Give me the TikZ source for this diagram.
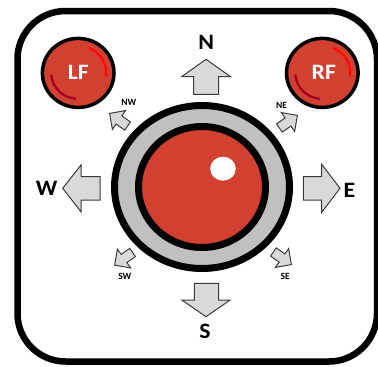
\documentclass[tikz,border=0pt]{standalone}
\usepackage{fontspec}
\setmainfont{Carlito}
\definecolor{padred}{RGB}{210,64,48}
\definecolor{ringgray}{RGB}{192,192,192}
\definecolor{arrowgray}{RGB}{217,217,217}
\definecolor{arrowedge}{RGB}{60,60,60}
\definecolor{glowred}{RGB}{255,10,10}
\definecolor{shadered}{RGB}{165,0,35}
\newcommand\widetext[1]{\scalebox{1.08}[1]{#1}}
\tikzset{
  padarrow/.style={fill=arrowgray, draw=arrowedge, line width=1, line join=miter},
  bigtext/.style={inner sep=0, font=\fontsize{22}{22}\selectfont\bfseries},
  smalltext/.style={inner sep=0, font=\fontsize{9.5}{10}\selectfont\bfseries},
  button/.style={fill=padred, draw=black, line width=3.5},
  smallarrow/.pic={\draw[padarrow] (-10.5,-5) -- (0,-5) -- (0,-11.5) -- (11.5,0) -- (0,11.5) -- (0,5) -- (-10.5,5) -- cycle;}
}
\begin{document}
\begin{tikzpicture}[x=1pt,y=-1pt]
\useasboundingbox (0,0) rectangle (378,367);

% housing
\draw[line width=6.5, rounded corners=48] (17.5,11) rectangle (377,361.5);

% shoulder buttons
\draw[button] (78.2,72.9) ellipse [x radius=35.8, y radius=34.5];
\draw[glowred, line width=2.3] (78.2,72.9) ++(-68:28 and 27) arc [start angle=-68, end angle=8, x radius=28, y radius=27];
\draw[shadered, line width=2.3] (78.2,72.9) ++(-184:27 and 26) arc [start angle=-184, end angle=-265, x radius=27, y radius=26];
\node[bigtext, white] (lf) at (78.3,72) {\widetext{LF}};

\draw[button] (322.3,72.9) ellipse [x radius=35.8, y radius=34.5];
\draw[glowred, line width=2.3] (322.3,72.9) ++(-68:28 and 27) arc [start angle=-68, end angle=8, x radius=28, y radius=27];
\draw[shadered, line width=2.3] (322.3,72.9) ++(-184:27 and 26) arc [start angle=-184, end angle=-265, x radius=27, y radius=26];
\node[bigtext, white] (rf) at (323.8,72) {\widetext{RF}};

% stick
\draw[fill=ringgray, line width=7] (202,187) ellipse [x radius=87.5, y radius=81.5];
\draw[fill=padred, line width=7] (202,187) ellipse [x radius=63.5, y radius=60.5];
\fill[white] (223,168.7) ellipse [x radius=12.8, y radius=12];

% main directions
\draw[padarrow] (193.5,94.3) -- (193.5,76.7) -- (181.6,76.7) -- (206,59.3) -- (230.6,76.7) -- (218.5,76.7) -- (218.5,94.3) -- cycle;
\draw[padarrow] (194.3,283.3) -- (194.3,300) -- (181.8,300) -- (206,316.7) -- (230.2,300) -- (218.6,300) -- (218.6,283.3) -- cycle;
\draw[padarrow] (100,176.7) -- (81,176.7) -- (81,165) -- (62.7,188.3) -- (81,211.7) -- (81,200) -- (100,200) -- cycle;
\draw[padarrow] (303.3,176.7) -- (321.7,176.7) -- (321.7,164.3) -- (340,188.3) -- (321.7,212.3) -- (321.7,200) -- (303.3,200) -- cycle;

\node[bigtext] (n) at (206.3,42.7) {\widetext{N}};
\node[bigtext] (s) at (205,331.7) {\widetext{S}};
\node[bigtext] (w) at (46.7,188.3) {\widetext{W}};
\node[bigtext] (e) at (349.5,190.7) {\widetext{E}};

% diagonal directions
\pic[rotate=145] at (119,120) {smallarrow};
\pic[rotate=35] at (288,122) {smallarrow};
\pic[rotate=215] at (124,258.5) {smallarrow};
\pic[rotate=-35] at (282,258) {smallarrow};

\node[smalltext] (nw) at (128.8,102.7) {NW};
\node[smalltext] (ne) at (281.5,105.5) {NE};
\node[smalltext] (sw) at (124.8,276) {SW};
\node[smalltext] (se) at (285.3,276) {SE};
\end{tikzpicture}
\end{document}
